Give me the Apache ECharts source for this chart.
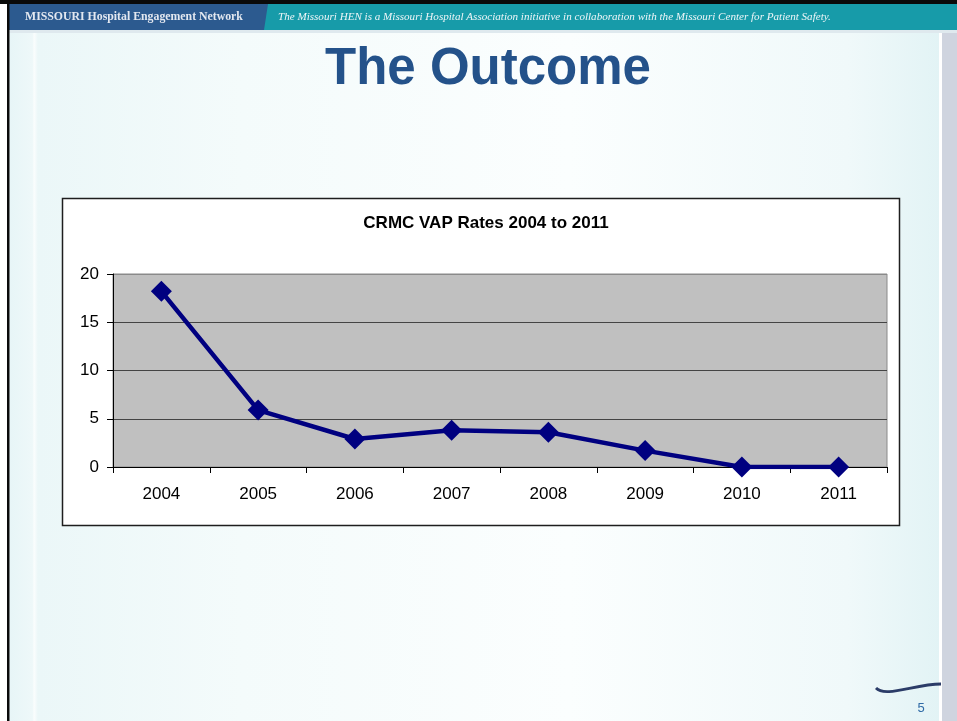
<!DOCTYPE html>
<html>
<head>
<meta charset="utf-8">
<style>
html,body{margin:0;padding:0;background:#fff;}
#c{width:957px;height:721px;}
</style>
<script src="https://cdn.jsdelivr.net/npm/echarts@6/dist/echarts.min.js"></script>
</head>
<body>
<div id="c"></div>
<script>
const years = ['2004','2005','2006','2007','2008','2009','2010','2011'];
const vapRates = [18.2, 5.9, 2.9, 3.8, 3.6, 1.7, 0, 0];
const yTicks = [0, 5, 10, 15, 20];
const chartTitle = 'CRMC VAP Rates 2004 to 2011';
const slideTitle = 'The Outcome';
const headerLeft = 'MISSOURI Hospital Engagement Network';
const headerRight = 'The Missouri HEN is a Missouri Hospital Association initiative in collaboration with the Missouri Center for Patient Safety.';
const pageNumber = '5';

const chart = echarts.init(document.getElementById('c'), null, {renderer: 'canvas'});

const option = {
  animation: false,
  backgroundColor: '#ffffff',
  graphic: [
    // slide background
    {type: 'rect', z: -10, shape: {x: 9, y: 30, width: 932, height: 691},
     style: {fill: new echarts.graphic.LinearGradient(0, 0, 1, 0, [
       {offset: 0, color: '#e7f5f7'}, {offset: 0.025, color: '#eef8f9'}, {offset: 0.027, color: '#fafdfd'}, {offset: 0.031, color: '#ebf7f8'},
       {offset: 0.25, color: '#f4fbfb'}, {offset: 0.6, color: '#fbfefe'}, {offset: 0.9, color: '#f0f9fa'}, {offset: 1, color: '#e2f3f5'}])}},
    // right gray band
    {type: 'rect', z: -9, shape: {x: 939, y: 30, width: 3, height: 691}, style: {fill: '#ffffff'}},
    {type: 'rect', z: -9, shape: {x: 942, y: 30, width: 15, height: 691}, style: {fill: '#cfd4df'}},
    // left black border
    {type: 'rect', z: 5, shape: {x: 7, y: 0, width: 2.5, height: 721}, style: {fill: '#0a0a0a'}},
    // top black bar
    {type: 'rect', z: 4, shape: {x: 0, y: 0, width: 957, height: 4}, style: {fill: '#0a0a0a'}},
    // header teal
    {type: 'rect', z: 3, shape: {x: 9, y: 4, width: 948, height: 26}, style: {fill: '#179ba9'}},
    // header blue (slanted end)
    {type: 'polygon', z: 4, shape: {points: [[9, 4], [268, 4], [264, 30], [9, 30]]}, style: {fill: '#2c5a8f'}},
    // header bottom light line
    {type: 'rect', z: 3, shape: {x: 9, y: 30, width: 948, height: 3}, style: {fill: '#dfe9ee'}},
    {type: 'text', z: 6, x: 25, y: 17, style: {text: headerLeft, fill: '#e3e8f0', font: 'bold 11.8px "Liberation Serif", serif', textAlign: 'left', textVerticalAlign: 'middle'}},
    {type: 'text', z: 6, x: 278, y: 17, style: {text: headerRight, fill: '#eef6f8', font: 'italic 11.1px "Liberation Serif", serif', textAlign: 'left', textVerticalAlign: 'middle'}},
    // slide title
    {type: 'text', z: 6, x: 488, y: 70, style: {text: slideTitle, fill: '#24528a', font: 'bold 51px "Liberation Sans", Arial, sans-serif', textAlign: 'center', textVerticalAlign: 'middle'}},
    // chart box
    {type: 'rect', z: -1, shape: {x: 62.5, y: 198.5, width: 837, height: 327}, style: {fill: '#ffffff', stroke: '#1e1e1e', lineWidth: 1.5}},
    // swoosh
    {type: 'bezierCurve', z: 6, shape: {x1: 876, y1: 688, x2: 941, y2: 684, cpx1: 885, cpy1: 698, cpx2: 915, cpy2: 684}, style: {stroke: '#2b3c68', lineWidth: 2.8, fill: null}},
    {type: 'text', z: 6, x: 921, y: 708, style: {text: pageNumber, fill: '#2f6aa6', font: '13px "Liberation Sans", Arial, sans-serif', textAlign: 'center', textVerticalAlign: 'middle'}}
  ],
  title: {
    text: chartTitle,
    left: 481, top: 210,
    textAlign: 'center',
    textStyle: {fontFamily: '"Liberation Sans", Arial, sans-serif', fontWeight: 'bold', fontSize: 17, color: '#000'}
  },
  grid: {
    left: 113, right: 70, top: 274, bottom: 254,
    show: true, backgroundColor: '#c0c0c0', borderColor: '#8a8a8a', borderWidth: 1
  },
  xAxis: {
    type: 'category',
    data: years,
    boundaryGap: true,
    axisLine: {show: true, lineStyle: {color: '#000', width: 1}},
    axisTick: {show: true, length: 6, lineStyle: {color: '#000'}},
    axisLabel: {margin: 19, fontSize: 17, color: '#000', fontFamily: '"Liberation Sans", Arial, sans-serif'},
    splitLine: {show: false}
  },
  yAxis: {
    type: 'value',
    min: yTicks[0], max: yTicks[yTicks.length - 1], interval: 5,
    axisLine: {show: true, lineStyle: {color: '#000', width: 1}},
    axisTick: {show: true, length: 6, lineStyle: {color: '#000'}},
    axisLabel: {margin: 14, fontSize: 17, color: '#000', fontFamily: '"Liberation Sans", Arial, sans-serif'},
    splitLine: {show: true, lineStyle: {color: ['#444', '#444', '#444', '#444', '#8a8a8a'], width: 1}}
  },
  series: [{
    type: 'line',
    data: vapRates,
    symbol: 'diamond',
    symbolSize: 21,
    lineStyle: {color: '#000080', width: 4.5},
    itemStyle: {color: '#000080'},
    z: 5
  }]
};
chart.setOption(option);
</script>
</body>
</html>
